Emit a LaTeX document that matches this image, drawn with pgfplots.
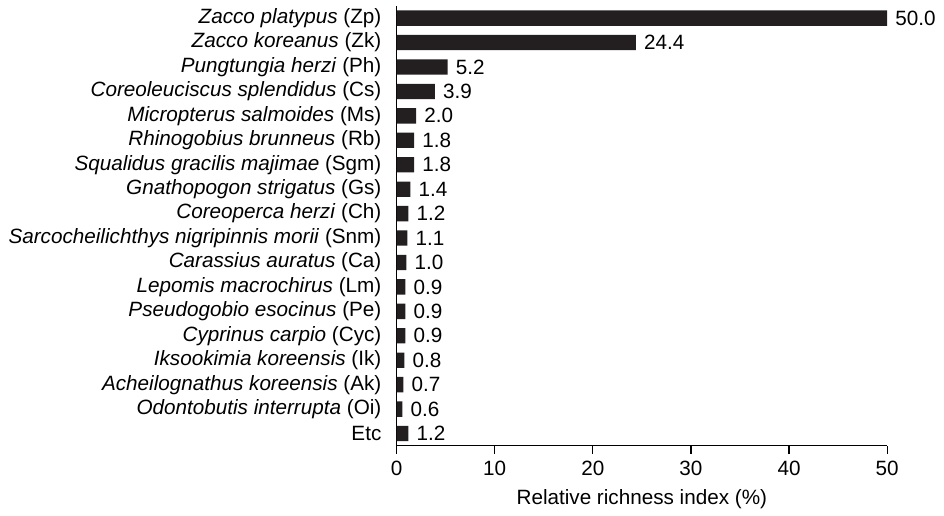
\documentclass[border=0pt]{standalone}
\usepackage{fontspec}
\setmainfont{Liberation Sans}
\usepackage{pgfplots}
\pgfplotsset{compat=1.18}
\definecolor{barc}{HTML}{231F20}
\begin{document}
\fontsize{10.5pt}{12.6pt}\selectfont
\begin{tikzpicture}
\path[use as bounding box] (-201.35pt,-35.65pt) rectangle (278pt,226.35pt);
\begin{axis}[
  at={(0pt,0pt)}, anchor=south west,
  scale only axis,
  width=249.15pt, height=223.35pt,
  xbar, bar width=7.8pt,
  xmin=0, xmax=50,
  ymin=-0.5, ymax=17.5,
  y dir=reverse,
  axis x line*=bottom, axis y line*=left,
  axis line style={-, line width=0.6pt, black},
  tick style={line width=0.6pt, black},
  tick align=outside,
  xtick={0,10,...,50},
  major tick length=4pt,
  ytick={0,...,17},
  ytick style={draw=none},
  minor ytick={-0.5,0.5,...,17.5},
  minor tick length=3.3pt,
  yticklabels={
    \textit{Zacco platypus} (Zp),
    \textit{Zacco koreanus} (Zk),
    \textit{Pungtungia herzi} (Ph),
    \textit{Coreoleuciscus splendidus} (Cs),
    \textit{Micropterus salmoides} (Ms),
    \textit{Rhinogobius brunneus} (Rb),
    \textit{Squalidus gracilis majimae} (Sgm),
    \textit{Gnathopogon strigatus} (Gs),
    \textit{Coreoperca herzi} (Ch),
    \textit{Sarcocheilichthys nigripinnis morii} (Snm),
    \textit{Carassius auratus} (Ca),
    \textit{Lepomis macrochirus} (Lm),
    \textit{Pseudogobio esocinus} (Pe),
    \textit{Cyprinus carpio} (Cyc),
    \textit{Iksookimia koreensis} (Ik),
    \textit{Acheilognathus koreensis} (Ak),
    \textit{Odontobutis interrupta} (Oi),
    Etc},
  yticklabel style={font=\fontsize{10.5pt}{12pt}\selectfont},
  xticklabel style={font=\fontsize{10.5pt}{12pt}\selectfont},
  /pgf/number format/assume math mode=true,
  xlabel={Relative richness index (\%)},
  xlabel style={font=\fontsize{10.5pt}{12pt}\selectfont},
  nodes near coords,
  nodes near coords style={font=\fontsize{10.5pt}{12pt}\selectfont, inner xsep=4pt, /pgf/number format/.cd, fixed, fixed zerofill, precision=1, assume math mode=true},
  clip=false,
]
\addplot[fill=barc, draw=none] coordinates {
  (50.0,0) (24.4,1) (5.2,2) (3.9,3) (2.0,4) (1.8,5) (1.8,6) (1.4,7) (1.2,8)
  (1.1,9) (1.0,10) (0.9,11) (0.9,12) (0.9,13) (0.8,14) (0.7,15) (0.6,16) (1.2,17)
};
\end{axis}
\end{tikzpicture}
\end{document}
